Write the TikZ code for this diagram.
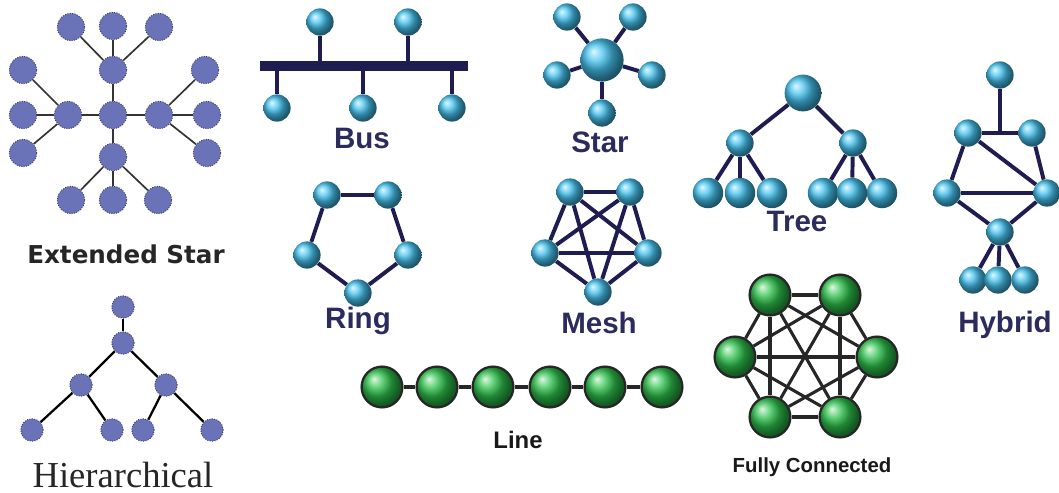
\documentclass[tikz,border=0pt]{standalone}
\usepackage{fontspec}
\setmainfont{Liberation Serif}
\setsansfont{Liberation Sans}
\newfontfamily\dejavu{DejaVu Sans}
\definecolor{navy}{HTML}{1E1C50}
\definecolor{labelnavy}{HTML}{2C2B5E}
\definecolor{ballblue}{HTML}{45C2EE}
\definecolor{ballgreen}{HTML}{2CC04A}
\definecolor{slate}{HTML}{6A73B8}
\definecolor{slateline}{HTML}{3C4170}
\begin{document}
\begin{tikzpicture}[x=0.025cm,y=-0.025cm,
    ext node/.style={circle,fill=slate,draw=slateline,densely dotted,line width=0.7pt,minimum size=0.68cm,inner sep=0pt},
    hier node/.style={ext node,minimum size=0.56cm},
    blue node/.style={circle,ball color=ballblue,minimum size=0.68cm,inner sep=0pt},
    green node/.style={circle,ball color=ballgreen,draw=black!85,line width=1.6pt,minimum size=1.02cm,inner sep=0pt},
    ext edge/.style={draw=black!80,line width=1.2pt},
    hier edge/.style={draw=black,line width=1.6pt},
    navy edge/.style={draw=navy,line width=2.8pt},
    green edge/.style={draw=black!85,line width=2.2pt},
    blue label/.style={anchor=base,text=labelnavy,font=\sffamily\bfseries\fontsize{21pt}{24pt}\selectfont},
    black label/.style={anchor=base,text=black!90,font=\sffamily\bfseries\fontsize{17pt}{20pt}\selectfont}]
    \useasboundingbox[fill=white] (0,0) rectangle (1059,493);

    % extended star
    \node[ext node] at (113,115) (xc) {};
    \node[ext node] at (113,70) (xu) {};
    \node[ext node] at (68,115) (xl) {};
    \node[ext node] at (159,115) (xr) {};
    \node[ext node] at (113,157) (xd) {};
    \node[ext node] at (71,27) (xu1) {};
    \node[ext node] at (113,26) (xu2) {};
    \node[ext node] at (159,27) (xu3) {};
    \node[ext node] at (23,70) (xl1) {};
    \node[ext node] at (23,115) (xl2) {};
    \node[ext node] at (23,153) (xl3) {};
    \node[ext node] at (205,70) (xr1) {};
    \node[ext node] at (207,115) (xr2) {};
    \node[ext node] at (207,153) (xr3) {};
    \node[ext node] at (71,200) (xd1) {};
    \node[ext node] at (113,200) (xd2) {};
    \node[ext node] at (158,200) (xd3) {};
    \path[ext edge]
        (xc) edge (xu) (xc) edge (xl) (xc) edge (xr) (xc) edge (xd)
        (xu) edge (xu1) (xu) edge (xu2) (xu) edge (xu3)
        (xl) edge (xl1) (xl) edge (xl2) (xl) edge (xl3)
        (xr) edge (xr1) (xr) edge (xr2) (xr) edge (xr3)
        (xd) edge (xd1) (xd) edge (xd2) (xd) edge (xd3)
        ;
    \node[anchor=base,font=\dejavu\bfseries\fontsize{17.5pt}{20pt}\selectfont,text=black!85] at (126,263) (xlabel) {Extended Star};

    % hierarchical
    \node[hier node] at (123,307) (h1) {};
    \node[hier node] at (123,343) (h2) {};
    \node[hier node] at (81,385) (h3) {};
    \node[hier node] at (166,385) (h4) {};
    \node[hier node] at (32,430) (h5) {};
    \node[hier node] at (112,430) (h6) {};
    \node[hier node] at (143,430) (h7) {};
    \node[hier node] at (212,430) (h8) {};
    \path[hier edge]
        (h1) edge (h2) (h2) edge (h3) (h2) edge (h4)
        (h3) edge (h5) (h3) edge (h6) (h4) edge (h7) (h4) edge (h8)
        ;
    \node[anchor=base,font=\fontsize{26pt}{30pt}\selectfont,text=black!85] at (123,487) (hlabel) {Hierarchical};

    % bus
    \node[rectangle,fill=navy,minimum width=5.2cm,minimum height=0.25cm,inner sep=0pt] at (364,66) (bar) {};
    \node[blue node] at (320,22) (b1) {};
    \node[blue node] at (408,22) (b2) {};
    \node[blue node] at (277,108) (b3) {};
    \node[blue node] at (363,108) (b4) {};
    \node[blue node] at (452,108) (b5) {};
    \path[navy edge]
        (b1) edge (b1 |- bar.north) (b2) edge (b2 |- bar.north)
        (b3) edge (b3 |- bar.south) (b4) edge (b4 |- bar.south) (b5) edge (b5 |- bar.south)
        ;
    \node[blue label] at (362,148) (buslabel) {Bus};

    % star
    \node[blue node,minimum size=1.08cm] at (602,60) (s0) {};
    \node[blue node] at (567,17) (s1) {};
    \node[blue node] at (633,17) (s2) {};
    \node[blue node] at (557,75) (s3) {};
    \node[blue node] at (652,75) (s4) {};
    \node[blue node] at (602,113) (s5) {};
    \path[navy edge]
        (s0) edge (s1) (s0) edge (s2) (s0) edge (s3) (s0) edge (s4) (s0) edge (s5)
        ;
    \node[blue label] at (600,152) (starlabel) {Star};

    % tree
    \node[blue node,minimum size=0.92cm] at (803,93) (t0) {};
    \node[blue node] at (740,143) (t1) {};
    \node[blue node] at (853,143) (t2) {};
    \node[blue node,minimum size=0.76cm] at (708,193) (t3) {};
    \node[blue node,minimum size=0.76cm] at (740,193) (t4) {};
    \node[blue node,minimum size=0.76cm] at (772,193) (t5) {};
    \node[blue node,minimum size=0.76cm] at (823,193) (t6) {};
    \node[blue node,minimum size=0.76cm] at (852,193) (t7) {};
    \node[blue node,minimum size=0.76cm] at (882,193) (t8) {};
    \path[navy edge]
        (t0) edge (t1) (t0) edge (t2)
        (t1) edge (t3) (t1) edge (t4) (t1) edge (t5)
        (t2) edge (t6) (t2) edge (t7) (t2) edge (t8)
        ;
    \node[blue label] at (797,231) (treelabel) {Tree};

    % hybrid
    \node[blue node] at (1000,75) (y1) {};
    \node[blue node] at (968,133) (y2) {};
    \node[blue node] at (1032,133) (y3) {};
    \node[blue node] at (947,193) (y4) {};
    \node[blue node] at (1047,193) (y5) {};
    \node[blue node] at (1000,232) (y6) {};
    \node[blue node] at (973,280) (y7) {};
    \node[blue node] at (998,280) (y8) {};
    \node[blue node] at (1025,280) (y9) {};
    \path[navy edge]
        (y1) edge (y1 |- y2) (y2) edge (y3)
        (y2) edge (y4) (y2) edge (y5) (y3) edge (y5) (y4) edge (y5)
        (y4) edge (y6) (y5) edge (y6)
        (y6) edge (y7) (y6) edge (y8) (y6) edge (y9)
        ;
    \node[blue label] at (1005,332) (hybridlabel) {Hybrid};

    % ring
    \node[blue node] at (327,195) (r1) {};
    \node[blue node] at (388,195) (r2) {};
    \node[blue node] at (408,255) (r3) {};
    \node[blue node] at (358,293) (r4) {};
    \node[blue node] at (307,255) (r5) {};
    \path[navy edge]
        (r1) edge (r2) (r2) edge (r3) (r3) edge (r4) (r4) edge (r5) (r5) edge (r1)
        ;
    \node[blue label] at (358,328) (ringlabel) {Ring};

    % mesh
    \node[blue node] at (570,192) (m1) {};
    \node[blue node] at (630,192) (m2) {};
    \node[blue node] at (648,253) (m3) {};
    \node[blue node] at (598,292) (m4) {};
    \node[blue node] at (545,253) (m5) {};
    \path[navy edge]
        (m1) edge (m2) (m1) edge (m3) (m1) edge (m4) (m1) edge (m5)
        (m2) edge (m3) (m2) edge (m4) (m2) edge (m5)
        (m3) edge (m4) (m3) edge (m5)
        (m4) edge (m5)
        ;
    \node[blue label] at (599,333) (meshlabel) {Mesh};

    % line
    \node[green node] at (382,387) (l1) {};
    \node[green node] at (437,387) (l2) {};
    \node[green node] at (493,387) (l3) {};
    \node[green node] at (550,387) (l4) {};
    \node[green node] at (605,387) (l5) {};
    \node[green node] at (662,387) (l6) {};
    \path[green edge]
        (l1) edge (l2) (l2) edge (l3) (l3) edge (l4) (l4) edge (l5) (l5) edge (l6)
        ;
    \node[black label] at (518,448) (linelabel) {Line};

    % fully connected
    \node[green node] at (770,295) (f1) {};
    \node[green node] at (840,295) (f2) {};
    \node[green node] at (877,357) (f3) {};
    \node[green node] at (840,417) (f4) {};
    \node[green node] at (770,417) (f5) {};
    \node[green node] at (735,357) (f6) {};
    \path[green edge]
        (f1) edge (f2) (f1) edge (f3) (f1) edge (f4) (f1) edge (f5) (f1) edge (f6)
        (f2) edge (f3) (f2) edge (f4) (f2) edge (f5) (f2) edge (f6)
        (f3) edge (f4) (f3) edge (f5) (f3) edge (f6)
        (f4) edge (f5) (f4) edge (f6)
        (f5) edge (f6)
        ;
    \node[black label,font=\sffamily\bfseries\fontsize{14.5pt}{17pt}\selectfont] at (812,472) (fclabel) {Fully Connected};
\end{tikzpicture}
\end{document}
